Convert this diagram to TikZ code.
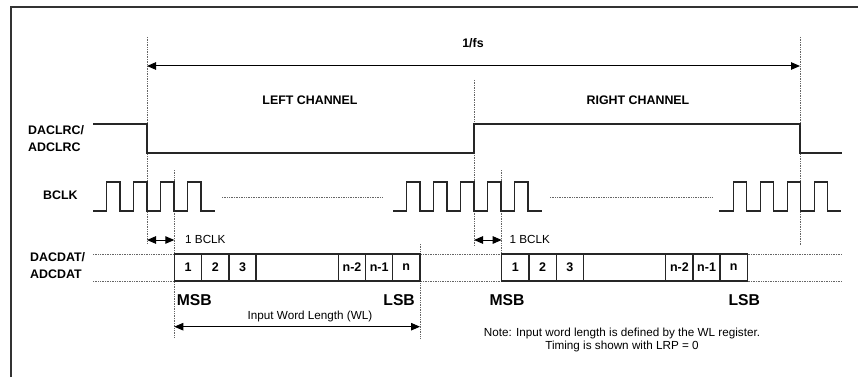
\documentclass[tikz,border=0pt]{standalone}
\usepackage{fontspec}
\setmainfont{Liberation Sans}
\usetikzlibrary{arrows.meta}
\begin{document}
\begin{tikzpicture}[x=1pt,y=-1pt,
  sig/.style={line width=1.4pt, black!85, line join=miter},
  guide/.style={densely dotted, line width=0.7pt, black!60},
  frame/.style={line width=1.3pt, black!80},
  dim/.style={line width=1pt, {Triangle[length=9pt,width=7.5pt]}-{Triangle[length=9pt,width=7.5pt]}},
  lbl/.style={font=\fontsize{12.4}{16.7}\selectfont\bfseries, inner sep=0pt},
  cell/.style={font=\fontsize{12.5}{13}\selectfont\bfseries, inner sep=0pt},
  small/.style={font=\fontsize{11.7}{13.7}\selectfont, inner sep=0pt},
  bit/.style={font=\fontsize{15.7}{17}\selectfont\bfseries, inner sep=0pt}
]
\useasboundingbox (0,0) rectangle (858,377);
% frame
\draw[frame] (11,377) -- (11,7) -- (858,7);
% guide lines
\draw[guide] (147,37) -- (147,243);
\draw[guide] (800,37) -- (800,246);
\draw[guide] (474,80) -- (474,245);
\draw[guide] (174.3,170) -- (174.3,338);
\draw[guide] (420,244) -- (420,338);
\draw[guide] (501.7,170) -- (501.7,254);
\draw[guide] (93,254) -- (842,254);
\draw[guide] (93,281) -- (842,281);
\draw[guide] (222,197) -- (383,197);
\draw[guide] (550,197) -- (712,197);
% LRC signal
\draw[sig] (93,124) -- (147,124) -- (147,153) -- (474,153) -- (474,124) -- (800,124) -- (800,153) -- (842,153);
% BCLK groups
\draw[sig] (93,211) -- (106.5,211) \foreach \k in {1,...,4} { -- ++(0,-29) -- ++(13.5,0) -- ++(0,29) -- ++(13.5,0) };
\draw[sig] (393,211) -- (406.5,211) \foreach \k in {1,...,5} { -- ++(0,-29) -- ++(13.5,0) -- ++(0,29) -- ++(13.5,0) };
\draw[sig] (719,211) -- (733.2,211) \foreach \k in {1,...,4} { -- ++(0,-29) -- ++(13.5,0) -- ++(0,29) -- ++(13.5,0) };
% data words
\foreach \o/\s in {0/L,327.4/R} {
  \draw[sig, fill=white] (174.3+\o,254) rectangle (420+\o,281);
  \foreach \x in {201.7,229,256,338.3,365.7,392.7}
    \draw[sig] (\x+\o,254) -- (\x+\o,281);
  \node[cell] (one\s) at (188+\o,267.5) {1};
  \node[cell] (two\s) at (215.3+\o,267.5) {2};
  \node[cell] (three\s) at (242.5+\o,267.5) {3};
  \node[cell] (nmtwo\s) at (352+\o,267.5) {n-2};
  \node[cell] (nmone\s) at (379.2+\o,267.5) {n-1};
  \node[cell] (n\s) at (406.3+\o,267.5) {n};
}
% dimension arrows
\draw[dim] (147,66) -- (800,66);
\draw[dim] (147,240) -- (174.3,240);
\draw[dim] (474,240) -- (501.7,240);
\draw[dim] (174.3,326.7) -- (420,326.7);
% labels
\node[lbl] (fs) at (473,43) {1/fs};
\node[lbl] (lc) at (310,100) {LEFT CHANNEL};
\node[lbl] (rc) at (638,100) {RIGHT CHANNEL};
\node[lbl, align=left, anchor=west] (lrc) at (28,138.5) {DACLRC/\\ADCLRC};
\node[lbl, anchor=west] (bclk) at (43,195) {BCLK};
\node[lbl, align=left, anchor=west] (dat) at (30,265.3) {DACDAT/\\ADCDAT};
\node[small, anchor=west] (bclkL) at (185,239) {1 BCLK};
\node[small, anchor=west] (bclkR) at (509.3,239) {1 BCLK};
\node[bit, anchor=west] (msbL) at (176.7,300) {MSB};
\node[bit, anchor=east] (lsbL) at (415,300) {LSB};
\node[bit, anchor=west] (msbR) at (489.3,300) {MSB};
\node[bit, anchor=west] (lsbR) at (728.3,300) {LSB};
\node[small] (wl) at (310,316) {Input Word Length (WL)};
\node[small, align=center] (note) at (622,340) {Note: Input word length is defined by the WL register.\\Timing is shown with LRP = 0};
\end{tikzpicture}
\end{document}
